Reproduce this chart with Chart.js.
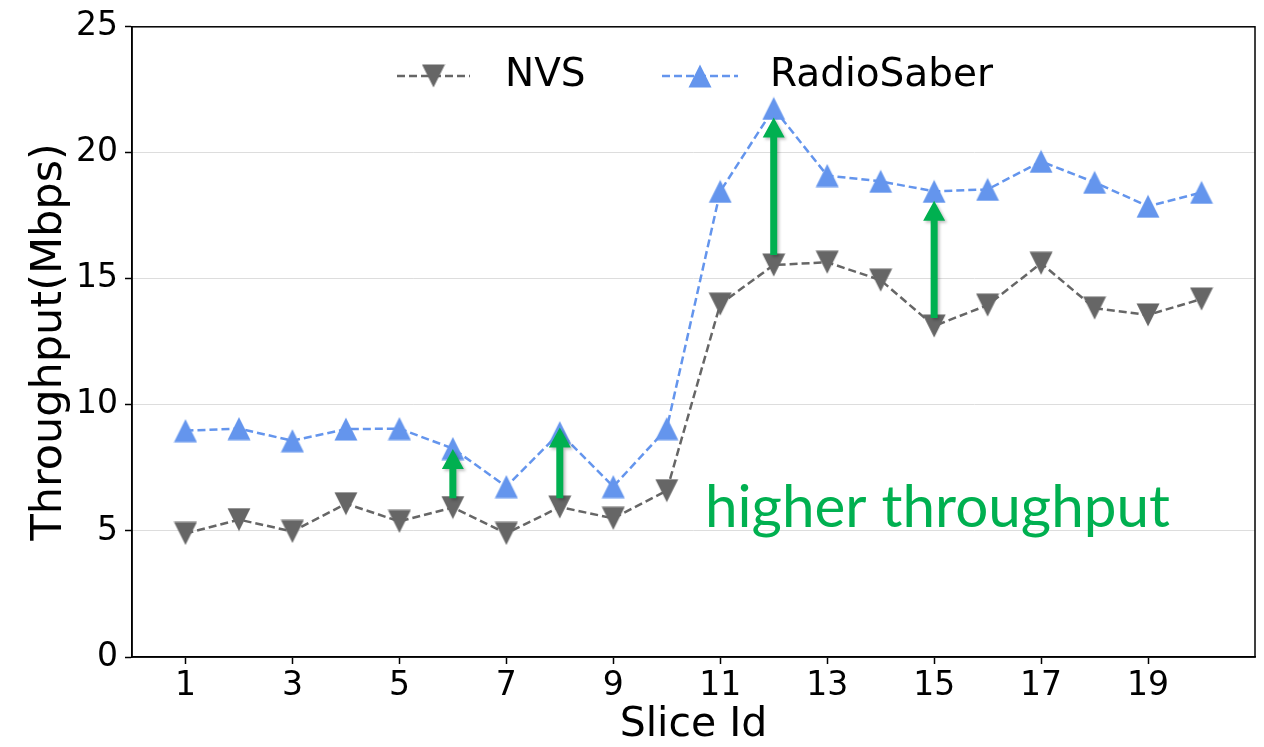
<!DOCTYPE html>
<html>
<head>
<meta charset="utf-8">
<script src="https://cdn.jsdelivr.net/npm/chart.js@4.4.0/dist/chart.umd.min.js"></script>
<style>
  html, body { margin: 0; padding: 0; background: #fff; }
  #wrap { width: 1264px; height: 747px; }
</style>
</head>
<body>
<div id="wrap"><canvas id="c" width="1264" height="747"></canvas></div>
<script>
// ---- data ----
const sliceIds = [1, 2, 3, 4, 5, 6, 7, 8, 9, 10, 11, 12, 13, 14, 15, 16, 17, 18, 19, 20];
const nvs = [4.9, 5.45, 4.98, 6.08, 5.38, 5.93, 4.9, 5.95, 5.5, 6.6, 14.0, 15.55, 15.66, 14.95, 13.13, 13.96, 15.62, 13.84, 13.57, 14.2];
const radioSaber = [8.98, 9.06, 8.58, 9.04, 9.06, 8.27, 6.76, 8.9, 6.76, 9.06, 18.47, 21.76, 19.1, 18.87, 18.47, 18.55, 19.66, 18.83, 17.88, 18.43];
const xTicks = [1, 3, 5, 7, 9, 11, 13, 15, 17, 19];
const yTicks = [0, 5, 10, 15, 20, 25];

// green arrows: slice, from, to
const arrowSlices = [6, 8, 12, 15];
const arrowFrom = [6.3, 6.3, 15.95, 13.45];
const arrowTo = [8.25, 9.1, 21.4, 18.1];
const noteText = 'higher throughput';

const GRAY = '#666666';
const BLUE = '#6495ED';
const GREEN = '#00B050';
const FONT = "'DejaVu Sans', sans-serif";

// matplotlib-like triangle marker (bbox centred on the point)
function makeTriangle(color, up) {
    const s = 24;
    const cv = document.createElement('canvas');
    cv.width = s; cv.height = s;
    const g = cv.getContext('2d');
    g.fillStyle = color;
    g.beginPath();
    if (up) {
        g.moveTo(s / 2, 0.5); g.lineTo(s - 0.5, s - 0.5); g.lineTo(0.5, s - 0.5);
    } else {
        g.moveTo(0.5, 0.5); g.lineTo(s - 0.5, 0.5); g.lineTo(s / 2, s - 0.5);
    }
    g.closePath();
    g.fill();
    return cv;
}
const triDown = makeTriangle(GRAY, false);
const triUp = makeTriangle(BLUE, true);

const framePlugin = {
    id: 'frame',
    afterDraw(chart) {
        const { ctx, chartArea: a } = chart;
        ctx.save();
        ctx.strokeStyle = '#000';
        ctx.lineWidth = 1.5;
        ctx.strokeRect(a.left, a.top, a.right - a.left, a.bottom - a.top);
        ctx.restore();
    }
};

const arrowPlugin = {
    id: 'arrows',
    afterDatasetsDraw(chart) {
        const { ctx, scales: { x, y } } = chart;
        ctx.save();
        ctx.fillStyle = GREEN;
        ctx.shadowColor = 'rgba(0,0,0,0.25)';
        ctx.shadowBlur = 3;
        ctx.shadowOffsetX = 2;
        ctx.shadowOffsetY = 2;
        arrowSlices.forEach((s, i) => {
            const px = x.getPixelForValue(s);
            const y0 = y.getPixelForValue(arrowFrom[i]);
            const y1 = y.getPixelForValue(arrowTo[i]);
            const headLen = 20, headW = 11, shaft = 3.5;
            ctx.beginPath();
            ctx.moveTo(px - shaft, y0);
            ctx.lineTo(px - shaft, y1 + headLen);
            ctx.lineTo(px - headW, y1 + headLen);
            ctx.lineTo(px, y1);
            ctx.lineTo(px + headW, y1 + headLen);
            ctx.lineTo(px + shaft, y1 + headLen);
            ctx.lineTo(px + shaft, y0);
            ctx.closePath();
            ctx.fill();
        });
        ctx.restore();

        // annotation text
        ctx.save();
        ctx.font = "100px Lato, sans-serif";
        const w = ctx.measureText(noteText).width;
        const size = 100 * 465 / w;
        ctx.font = size.toFixed(1) + "px Lato, sans-serif";
        ctx.fillStyle = GREEN;
        ctx.textBaseline = 'alphabetic';
        ctx.fillText(noteText, 705, 527);
        ctx.restore();
    }
};

const legendPlugin = {
    id: 'customLegend',
    afterDraw(chart) {
        const { ctx } = chart;
        const items = [
            { label: 'NVS', color: GRAY, img: triDown, x0: 397, x1: 470, tx: 505 },
            { label: 'RadioSaber', color: BLUE, img: triUp, x0: 662, x1: 738, tx: 770 }
        ];
        const ly = 76;
        ctx.save();
        items.forEach(it => {
            ctx.strokeStyle = it.color;
            ctx.lineWidth = 2.5;
            ctx.setLineDash([8, 4]);
            ctx.beginPath();
            ctx.moveTo(it.x0, ly);
            ctx.lineTo(it.x1, ly);
            ctx.stroke();
            ctx.setLineDash([]);
            const cx = (it.x0 + it.x1) / 2;
            ctx.drawImage(it.img, cx - it.img.width / 2, ly - it.img.height / 2);
            ctx.fillStyle = '#000';
            ctx.font = '39px ' + FONT;
            ctx.textBaseline = 'middle';
            ctx.fillText(it.label, it.tx, ly);
        });
        ctx.restore();
    }
};

new Chart(document.getElementById('c'), {
    type: 'line',
    data: {
        datasets: [
            {
                label: 'NVS',
                data: sliceIds.map((s, i) => ({ x: s, y: nvs[i] })),
                borderColor: GRAY,
                backgroundColor: GRAY,
                borderWidth: 2.5,
                borderDash: [8, 4],
                pointStyle: triDown,
                tension: 0
            },
            {
                label: 'RadioSaber',
                data: sliceIds.map((s, i) => ({ x: s, y: radioSaber[i] })),
                borderColor: BLUE,
                backgroundColor: BLUE,
                borderWidth: 2.5,
                borderDash: [8, 4],
                pointStyle: triUp,
                tension: 0
            }
        ]
    },
    options: {
        responsive: false,
        devicePixelRatio: 1,
        animation: false,
        layout: { padding: { top: 25, right: 9, left: 0, bottom: 0 } },
        plugins: {
            legend: { display: false },
            tooltip: { enabled: false }
        },
        scales: {
            x: {
                type: 'linear',
                min: 0,
                max: 21,
                afterBuildTicks: s => { s.ticks = xTicks.map(v => ({ value: v })); },
                afterFit: s => { s.height = 90; },
                ticks: {
                    font: { family: FONT, size: 33 },
                    color: '#000',
                    padding: 3,
                    maxRotation: 0,
                    autoSkip: false
                },
                grid: { drawOnChartArea: false, tickLength: 7, tickColor: '#000', tickWidth: 1.5 },
                border: { color: '#000', width: 1.5 },
                title: {
                    display: true,
                    text: 'Slice Id',
                    color: '#000',
                    font: { family: FONT, size: 41, lineHeight: 1.0 },
                    padding: { top: 0, bottom: 1 }
                }
            },
            y: {
                min: 0,
                max: 25,
                afterBuildTicks: s => { s.ticks = yTicks.map(v => ({ value: v })); },
                afterFit: s => { s.width = 132; },
                ticks: {
                    font: { family: FONT, size: 33 },
                    color: '#000',
                    padding: 7
                },
                grid: { color: '#dddddd', lineWidth: 1, tickLength: 7, tickColor: '#000', tickWidth: 1.5 },
                border: { color: '#000', width: 1.5 },
                title: {
                    display: true,
                    text: 'Throughput(Mbps)',
                    color: '#000',
                    font: { family: FONT, size: 43, lineHeight: 1.2 },
                    padding: { top: 24, bottom: 0 }
                }
            }
        }
    },
    plugins: [framePlugin, arrowPlugin, legendPlugin]
});
</script>
</body>
</html>
